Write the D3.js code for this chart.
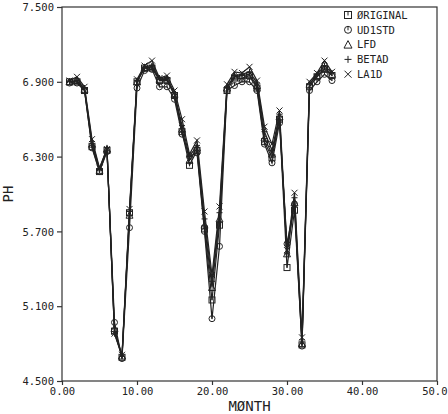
<!DOCTYPE html>
<html>
  <head>
    <meta charset="utf-8">
    <title>PH by month</title>
    <script src="https://cdn.jsdelivr.net/npm/d3@7"></script>
    <style>
      body { margin: 0; background: #fff; }
      svg { display: block; }
      text { font-family: "DejaVu Sans Mono", monospace; fill: #222; }
      .axis path, .axis line { stroke: #333; stroke-width: 1.2; }
      .axis text { font-size: 10.5px; }
      .series { fill: none; stroke: #222; stroke-width: 1.2; }
      .mark { fill: none; stroke: #222; stroke-width: 1; }
    </style>
  </head>
  <body>
    <svg id="chart" width="448" height="414"></svg>

    <script>
      // data
      months = d3.range(1, 37);
      original = [6.90, 6.90, 6.83, 6.38, 6.18, 6.35, 4.90, 4.69, 5.85, 6.90, 7.01, 7.01,
                  6.91, 6.91, 6.79, 6.50, 6.23, 6.35, 5.72, 5.15, 5.75, 6.83, 6.93, 6.93,
                  6.95, 6.85, 6.42, 6.29, 6.60, 5.41, 5.87, 4.79, 6.86, 6.94, 7.00, 6.95];
      udistd = [6.89, 6.89, 6.83, 6.37, 6.18, 6.34, 4.97, 4.68, 5.73, 6.85, 6.99, 7.00,
                6.86, 6.86, 6.76, 6.48, 6.30, 6.33, 5.70, 5.00, 5.58, 6.83, 6.87, 6.90,
                6.90, 6.83, 6.40, 6.25, 6.57, 5.60, 5.92, 4.78, 6.83, 6.90, 6.96, 6.91];
      lfd = [6.90, 6.91, 6.84, 6.40, 6.19, 6.36, 4.92, 4.70, 5.83, 6.90, 7.01, 7.02,
             6.92, 6.92, 6.80, 6.52, 6.27, 6.37, 5.75, 5.25, 5.80, 6.85, 6.94, 6.95,
             6.96, 6.87, 6.45, 6.32, 6.62, 5.52, 5.93, 4.80, 6.88, 6.95, 7.01, 6.96];
      betad = [6.90, 6.91, 6.85, 6.42, 6.20, 6.37, 4.88, 4.70, 5.86, 6.91, 7.02, 7.03,
               6.93, 6.93, 6.81, 6.55, 6.30, 6.39, 5.80, 5.30, 5.85, 6.86, 6.95, 6.96,
               6.98, 6.89, 6.50, 6.35, 6.64, 5.52, 5.97, 4.83, 6.88, 6.96, 7.03, 6.97];
      laid = [6.91, 6.94, 6.86, 6.44, 6.21, 6.36, 4.88, 4.71, 5.88, 6.92, 7.03, 7.07,
              6.93, 6.95, 6.83, 6.60, 6.32, 6.43, 5.86, 5.35, 5.90, 6.88, 6.98, 6.97,
              7.02, 6.91, 6.54, 6.40, 6.67, 5.55, 6.01, 4.85, 6.90, 6.97, 7.07, 6.98];
      seriesNames = ["\u00D8RIGINAL", "UD1STD", "LFD", "BETAD", "LA1D"];
      seriesShapes = ["square", "circle", "triangle", "plus", "cross"];
      xTicks = [0, 10, 20, 30, 40, 50];
      yTicks = [4.5, 5.1, 5.7, 6.3, 6.9, 7.5];

      series = [original, udistd, lfd, betad, laid].map(function(vals, i) {
        return {
          name: seriesNames[i],
          shape: seriesShapes[i],
          values: vals.map(function(v, j) { return { month: months[j], ph: v }; })
        };
      });

      // page elements
      chart = d3.select("#chart");
      margin = { top: 7, right: 11, bottom: 33, left: 62 };
      width = 448;
      height = 414;

      x = d3.scaleLinear().domain([0, 50]).range([margin.left, width - margin.right]);
      y = d3.scaleLinear().domain([4.5, 7.5]).range([height - margin.bottom, margin.top]);

      // frame
      chart.append("rect")
        .attr("x", x(0))
        .attr("y", y(7.5))
        .attr("width", x(50) - x(0))
        .attr("height", y(4.5) - y(7.5))
        .attr("fill", "none")
        .attr("stroke", "#333")
        .attr("stroke-width", 1.2);

      xAxis = d3.axisBottom(x)
        .tickValues(xTicks)
        .tickSize(4)
        .tickPadding(3)
        .tickSizeOuter(0)
        .tickFormat(function(d) { return d === 50 ? "50.0" : d3.format(".2f")(d); });
      yAxis = d3.axisLeft(y)
        .tickValues(yTicks)
        .tickSize(5)
        .tickPadding(3)
        .tickSizeOuter(0)
        .tickFormat(d3.format(".3f"));

      chart.append("g")
        .attr("class", "axis")
        .attr("transform", "translate(0, " + y(4.5) + ")")
        .call(xAxis)
        .call(function(g) { g.select(".domain").remove(); })
        .selectAll("text")
          .filter(function(d) { return d === 50; })
          .attr("text-anchor", "end")
          .attr("x", width - 1 - x(50));
      chart.append("g")
        .attr("class", "axis")
        .attr("transform", "translate(" + x(0) + ", 0)")
        .call(yAxis)
        .call(function(g) { g.select(".domain").remove(); })
        .selectAll("text")
          .attr("dy", "0.36em");

      // axis titles
      chart.append("text")
        .attr("x", (x(0) + x(50)) / 2)
        .attr("y", 411)
        .attr("text-anchor", "middle")
        .style("font-size", "14px")
        .text("M\u00D8NTH");
      chart.append("text")
        .attr("transform", "translate(13, " + y(6) + ") rotate(-90)")
        .attr("text-anchor", "middle")
        .style("font-size", "14px")
        .text("PH");

      // marker drawing
      function drawMarker(g, shape, s) {
        var h = s / 2;
        if (shape === "square") {
          g.append("rect").attr("class", "mark")
            .attr("x", -h).attr("y", -h).attr("width", s).attr("height", s)
            .attr("fill", "#fff");
          g.append("path").attr("class", "mark").attr("d", "M0," + (-h) + "V0.5");
        } else if (shape === "circle") {
          g.append("circle").attr("class", "mark").attr("r", h).attr("fill", "#fff");
          g.append("path").attr("class", "mark").attr("d", "M0," + (-h) + "V0.5");
        } else if (shape === "triangle") {
          g.append("path").attr("class", "mark")
            .attr("d", "M0," + (-h - 0.5) + "L" + (h + 0.5) + "," + h + "L" + (-h - 0.5) + "," + h + "Z");
        } else if (shape === "plus") {
          g.append("path").attr("class", "mark")
            .attr("d", "M" + (-h) + ",0H" + h + "M0," + (-h) + "V" + h);
        } else {
          g.append("path").attr("class", "mark")
            .attr("d", "M" + (-h) + "," + (-h) + "L" + h + "," + h + "M" + (-h) + "," + h + "L" + h + "," + (-h));
        }
      }

      line = d3.line()
        .x(function(d) { return x(d.month); })
        .y(function(d) { return y(d.ph); });

      chartGroup = chart.append("g");
      series.forEach(function(s) {
        chartGroup.append("path")
          .attr("class", "series")
          .attr("d", line(s.values));
      });
      series.forEach(function(s) {
        chartGroup.selectAll(null)
          .data(s.values)
          .enter().append("g")
            .attr("transform", function(d) { return "translate(" + x(d.month) + ", " + y(d.ph) + ")"; })
            .each(function() { drawMarker(d3.select(this), s.shape, 6); });
      });

      // legend
      legend = chart.append("g")
        .attr("transform", "translate(348, 15)");
      series.forEach(function(s, i) {
        var item = legend.append("g")
          .attr("transform", "translate(0, " + (i * 14.8) + ")");
        drawMarker(item, s.shape, 7);
        item.append("text")
          .attr("x", 9)
          .attr("dy", "0.36em")
          .style("font-size", "10.5px")
          .text(s.name);
      });
    </script>
  </body>
</html>
